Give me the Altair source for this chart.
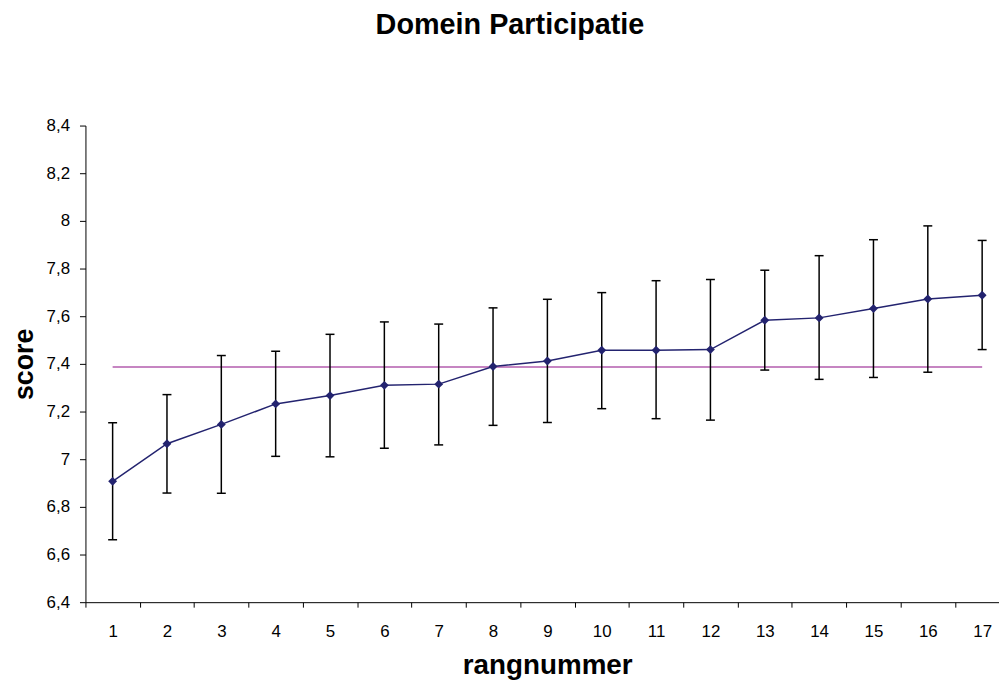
import altair as alt
import pandas as pd

# ---- data ----
categories = list(range(1, 18))
means = [6.907, 7.065, 7.146, 7.232, 7.267, 7.310, 7.315, 7.389, 7.412,
         7.457, 7.457, 7.460, 7.583, 7.593, 7.632, 7.672, 7.688]
upper = [7.153, 7.271, 7.435, 7.453, 7.524, 7.576, 7.567, 7.635, 7.671,
         7.699, 7.749, 7.754, 7.793, 7.854, 7.921, 7.979, 7.918]
lower = [6.662, 6.858, 6.857, 7.012, 7.010, 7.046, 7.060, 7.142, 7.154,
         7.212, 7.170, 7.164, 7.374, 7.335, 7.343, 7.365, 7.460]
average = [7.387] * 17
y_ticks = [6.4, 6.6, 6.8, 7.0, 7.2, 7.4, 7.6, 7.8, 8.0, 8.2, 8.4]

df = pd.DataFrame({"rang": categories, "score": means, "upper": upper,
                   "lower": lower, "avg": average})

x_values = sorted(categories + [c - 0.5 for c in categories])

FONT = "Liberation Sans"
NAVY = "#23236F"
PURPLE = "#B35CAE"

x_enc = alt.X(
    "rang:Q",
    scale=alt.Scale(domain=[0.5, 17.31], nice=False, zero=False),
    axis=alt.Axis(
        values=x_values,
        labelExpr="datum.value % 1 === 0 ? toString(datum.value) : ''",
        tickOpacity={"condition": {"test": "datum.value % 1 !== 0", "value": 1}, "value": 0},
        labelOverlap=False,
        labelFlush=False,
        grid=False,
        tickSize=5,
        labelPadding=17,
        labelFontSize=17,
        labelFont=FONT,
        labelColor="black",
        domainColor="black",
        tickColor="black",
        title="rangnummer",
        titleFont=FONT,
        titleFontSize=28,
        titleFontWeight="bold",
        titleColor="black",
        titleX=465,
        titleY=72,
        titleBaseline="alphabetic",
        titleAlign="center",
    ),
)

y_axis = alt.Axis(
    values=y_ticks,
    labelExpr="replace(toString(datum.value), '.', ',')",
    grid=False,
    tickSize=6,
    labelPadding=10,
    labelFontSize=17,
    labelFont=FONT,
    labelColor="black",
    domainColor="black",
    tickColor="black",
    title="score",
    titleFont=FONT,
    titleFontSize=27,
    titleFontWeight="bold",
    titleColor="black",
    titleX=-53,
    titleY=240,
    titleBaseline="alphabetic",
    titleAlign="center",
)
y_scale = alt.Scale(domain=[6.4, 8.4], nice=False, zero=False)

base = alt.Chart(df)

avg_line = base.mark_line(color=PURPLE, strokeWidth=1.5).encode(
    x=x_enc, y=alt.Y("avg:Q", scale=y_scale, axis=y_axis))

err_rule = base.mark_rule(color="black", strokeWidth=1.5).encode(
    x=x_enc, y=alt.Y("lower:Q", scale=y_scale, axis=y_axis), y2="upper:Q")

cap_up = base.mark_tick(orient="horizontal", size=9, thickness=1.5, color="black", opacity=1).encode(
    x=x_enc, y=alt.Y("upper:Q", scale=y_scale, axis=y_axis))
cap_lo = base.mark_tick(orient="horizontal", size=9, thickness=1.5, color="black", opacity=1).encode(
    x=x_enc, y=alt.Y("lower:Q", scale=y_scale, axis=y_axis))

mean_line = base.mark_line(color=NAVY, strokeWidth=1.5).encode(
    x=x_enc, y=alt.Y("score:Q", scale=y_scale, axis=y_axis))

points = base.mark_point(shape="diamond", filled=True, size=80, color=NAVY, opacity=1).encode(
    x=x_enc, y=alt.Y("score:Q", scale=y_scale, axis=y_axis))

chart = alt.layer(avg_line, err_rule, cap_up, cap_lo, mean_line, points).properties(
    width=920,
    height=480,
    background="white",
    title=alt.TitleParams(
        "Domein Participatie",
        font=FONT,
        fontSize=29,
        fontWeight="bold",
        color="black",
        anchor="middle",
        frame="bounds",
        baseline="alphabetic",
        offset=54,
        dx=5,
    ),
    autosize=alt.AutoSizeParams(type="none"),
    padding={"left": 78, "top": 116, "right": 0, "bottom": 80},
).configure_view(stroke=None)

chart.save("out.html", embed_options={"renderer": "svg", "actions": False})
